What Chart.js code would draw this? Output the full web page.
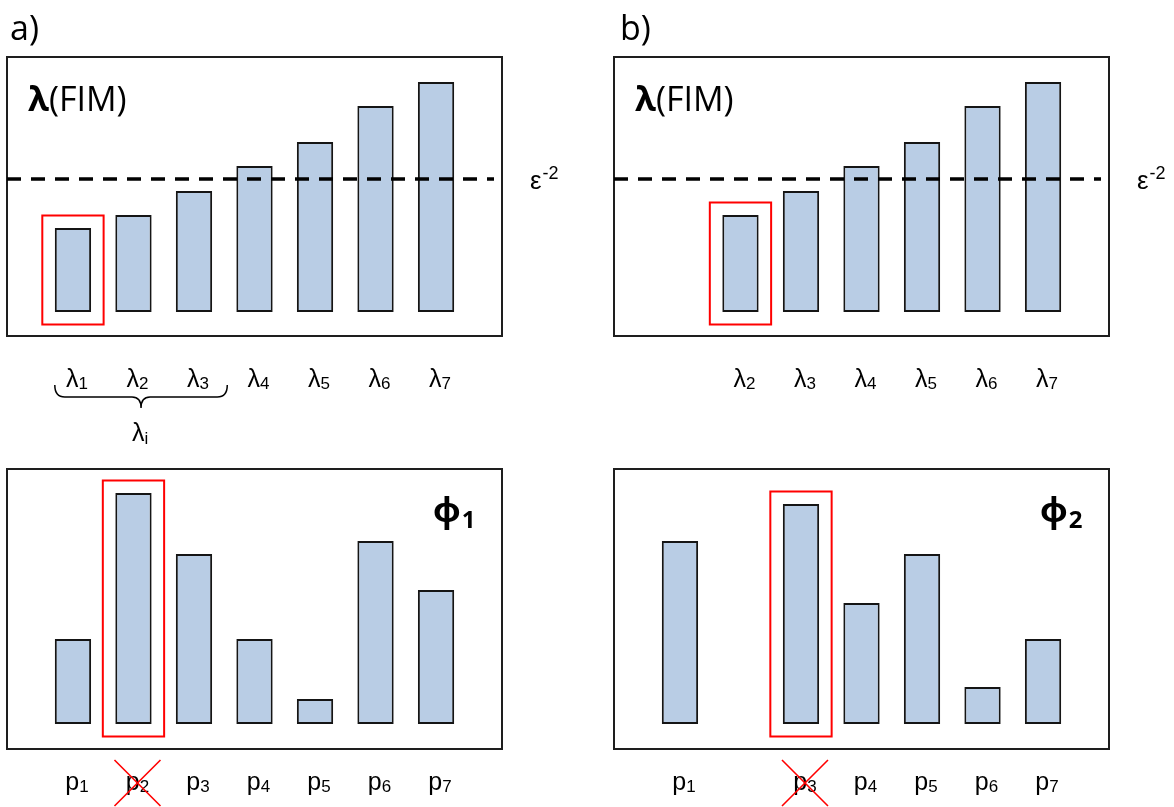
<!DOCTYPE html>
<html>
<head>
<meta charset="utf-8">
<script src="https://cdn.jsdelivr.net/npm/chart.js@4.4.1/dist/chart.umd.min.js"></script>
<style>
  html, body { margin: 0; padding: 0; background: #ffffff; }
  #fig { position: relative; width: 1174px; height: 807px; overflow: hidden; background: #ffffff; }
  .panel { position: absolute; }
  .panel canvas { display: block; }
</style>
</head>
<body>
<div id="fig">
  <div class="panel" style="left:0px;top:0px;width:590px;height:460px"><canvas id="eigA" width="590" height="460"></canvas></div>
  <div class="panel" style="left:590px;top:0px;width:584px;height:460px"><canvas id="eigB" width="584" height="460"></canvas></div>
  <div class="panel" style="left:0px;top:460px;width:590px;height:347px"><canvas id="vecA" width="590" height="347"></canvas></div>
  <div class="panel" style="left:590px;top:460px;width:584px;height:347px"><canvas id="vecB" width="584" height="347"></canvas></div>
</div>
<script>
// Parameter slots 1..7 (subscripts of λ_i and p_i)
const slots = [1, 2, 3, 4, 5, 6, 7];

// Eigenvalues of the FIM, sorted ascending (b: λ1 already removed)
const eigenA = [84, 97, 121, 146, 170, 206, 230];
const eigenB = [null, 97, 121, 146, 170, 206, 230];

// Identifiability threshold ε^-2
const threshold = 133;

// Components of the eigenvector of the smallest eigenvalue
const phi1 = [85, 231, 170, 85, 25, 183, 134];
const phi2 = [183, null, 220, 121, 170, 37, 85];

const HEAD_FONT = '"Open Sans", "Noto Sans", sans-serif';
const LABEL_FONT = '"Liberation Sans", Arial, sans-serif';

function font(weight, size, family) { return weight + ' ' + size + 'px ' + family; }

// Text with a subscript (or superscript when drop < 0)
function drawIndexed(ctx, base, sub, x, y, opt) {
  const w = opt.weight || 'normal';
  ctx.font = font(w, opt.size, opt.family);
  const wb = ctx.measureText(base).width;
  ctx.font = font(w, opt.subSize, opt.family);
  const ws = ctx.measureText(sub).width;
  const x0 = opt.align === 'center' ? x - (wb + ws) / 2 : x;
  ctx.textAlign = 'left';
  ctx.textBaseline = 'alphabetic';
  ctx.font = font(w, opt.size, opt.family);
  ctx.fillText(base, x0, y);
  ctx.font = font(w, opt.subSize, opt.family);
  ctx.fillText(sub, x0 + wb + (opt.gap || 0), y + opt.drop);
  return { left: x0, right: x0 + wb + ws };
}

const panelDecor = {
  id: 'panelDecor',
  beforeDatasetsDraw(chart, _args, o) {
    const { ctx, chartArea: a } = chart;
    ctx.save();
    ctx.strokeStyle = '#1e1e1e';
    ctx.lineWidth = 2;
    ctx.strokeRect(a.left, a.top, a.right - a.left, a.bottom - a.top);
    ctx.restore();
  },
  afterDatasetsDraw(chart, _args, o) {
    const { ctx, chartArea: a, scales: { x, y } } = chart;
    const pts = chart.data.datasets[0].data;
    const bars = chart.getDatasetMeta(0).data;
    ctx.save();
    ctx.fillStyle = '#000';

    // panel tag
    ctx.font = font('normal', 34, HEAD_FONT);
    ctx.textBaseline = 'alphabetic';
    ctx.textAlign = 'left';
    if (o.tag) ctx.fillText(o.tag, a.left + o.tagDx, o.tagY);

    // threshold line and its label
    if (o.threshold != null) {
      const ty = y.getPixelForValue(o.threshold);
      ctx.strokeStyle = '#000';
      ctx.lineWidth = 3.5;
      ctx.setLineDash([14, 10]);
      ctx.beginPath();
      ctx.moveTo(a.left, ty);
      ctx.lineTo(a.right - 8, ty);
      ctx.stroke();
      ctx.setLineDash([]);
      drawIndexed(ctx, 'ε', '-2', a.right + 28, ty + 10,
        { size: 26, subSize: 18, family: LABEL_FONT, drop: -10, gap: 1 });
    }

    // panel title
    if (o.title === 'fim') {
      const tx = a.left + 21, tyy = a.top + 54;
      ctx.font = font('bold', 34, HEAD_FONT);
      ctx.fillText('λ', tx, tyy);
      const w = ctx.measureText('λ').width;
      ctx.font = font('normal', 34, HEAD_FONT);
      ctx.fillText('(FIM)', tx + w, tyy);
    } else if (o.title) {
      drawIndexed(ctx, 'ϕ', o.title, a.right - 69, a.top + 53,
        { size: 34, subSize: 24, family: HEAD_FONT, weight: 'bold', drop: 6, gap: 1 });
    }

    // highlighted bar
    const hi = o.pick === 'min'
      ? pts.reduce((b, p, i) => (p.y < pts[b].y ? i : b), 0)
      : pts.reduce((b, p, i) => (p.y > pts[b].y ? i : b), 0);
    const hb = bars[hi];
    const pad = 12.5;
    ctx.strokeStyle = '#ff0000';
    ctx.lineWidth = 2;
    ctx.strokeRect(hb.x - hb.width / 2 - pad, hb.y - pad, hb.width + 2 * pad, hb.base - hb.y + 2 * pad);

    // slot labels under the frame
    ctx.fillStyle = '#000';
    pts.forEach((p, i) => {
      const cx = x.getPixelForValue(p.x) + 4;
      drawIndexed(ctx, o.symbol, String(p.x), cx, a.bottom + o.labelDy,
        { size: 25, subSize: 17, family: LABEL_FONT, drop: 2, align: 'center' });
      if (o.cross && i === hi) {
        const cy = a.bottom + o.labelDy - 7;
        ctx.strokeStyle = '#ff0000';
        ctx.lineWidth = 1.6;
        ctx.beginPath();
        ctx.moveTo(cx - 23, cy - 23); ctx.lineTo(cx + 23, cy + 23);
        ctx.moveTo(cx + 23, cy - 23); ctx.lineTo(cx - 23, cy + 23);
        ctx.stroke();
      }
    });

    // brace grouping the sub-threshold eigenvalues
    if (o.brace) {
      const below = pts.filter(p => p.y < o.threshold);
      const xl = x.getPixelForValue(below[0].x - 0.3);
      const xr = x.getPixelForValue(below[below.length - 1].x + 0.55);
      const xm = (xl + xr) / 2;
      const y0 = a.bottom + 49, y1 = a.bottom + 61, y2 = a.bottom + 72;
      ctx.strokeStyle = '#000';
      ctx.lineWidth = 1.5;
      ctx.beginPath();
      ctx.moveTo(xl, y0);
      ctx.quadraticCurveTo(xl, y1, xl + 10, y1);
      ctx.lineTo(xm - 9, y1);
      ctx.quadraticCurveTo(xm, y1, xm, y2);
      ctx.quadraticCurveTo(xm, y1, xm + 9, y1);
      ctx.lineTo(xr - 10, y1);
      ctx.quadraticCurveTo(xr, y1, xr, y0);
      ctx.stroke();
      ctx.fillStyle = '#000';
      drawIndexed(ctx, 'λ', 'i', xm - 1, a.bottom + 105,
        { size: 25, subSize: 17, family: LABEL_FONT, drop: 3, align: 'center' });
    }
    ctx.restore();
  }
};

function makePanel(id, values, pad, yRange, decor) {
  const points = slots.map((s, i) => ({ x: s, y: values[i] })).filter(p => p.y !== null);
  return new Chart(document.getElementById(id), {
    type: 'bar',
    data: {
      datasets: [{
        data: points,
        backgroundColor: '#b9cde5',
        borderColor: '#151515',
        borderWidth: 2,
        borderSkipped: false,
        categoryPercentage: 1,
        barPercentage: 0.6
      }]
    },
    options: {
      responsive: false,
      animation: false,
      devicePixelRatio: 1,
      layout: { padding: pad },
      scales: {
        x: { type: 'linear', offset: false, min: -0.09, max: 8.09, display: false },
        y: { min: yRange[0], max: yRange[1], display: false }
      },
      plugins: {
        legend: { display: false },
        tooltip: { enabled: false },
        panelDecor: decor
      }
    },
    plugins: [panelDecor]
  });
}

const topRange = [-24, 255];
const bottomRange = [-25, 255];

makePanel('eigA', eigenA, { left: 7, right: 88, top: 57, bottom: 124 }, topRange,
  { tag: 'a)', tagDx: 3, tagY: 40, threshold, title: 'fim', pick: 'min', symbol: 'λ', labelDy: 50.5, brace: true });
makePanel('eigB', eigenB, { left: 24, right: 65, top: 57, bottom: 124 }, topRange,
  { tag: 'b)', tagDx: 6, tagY: 40, threshold, title: 'fim', pick: 'min', symbol: 'λ', labelDy: 50.5 });
makePanel('vecA', phi1, { left: 7, right: 88, top: 9, bottom: 58 }, bottomRange,
  { title: '1', pick: 'max', symbol: 'p', labelDy: 41, cross: true });
makePanel('vecB', phi2, { left: 24, right: 65, top: 9, bottom: 58 }, bottomRange,
  { title: '2', pick: 'max', symbol: 'p', labelDy: 41, cross: true });
</script>
</body>
</html>
